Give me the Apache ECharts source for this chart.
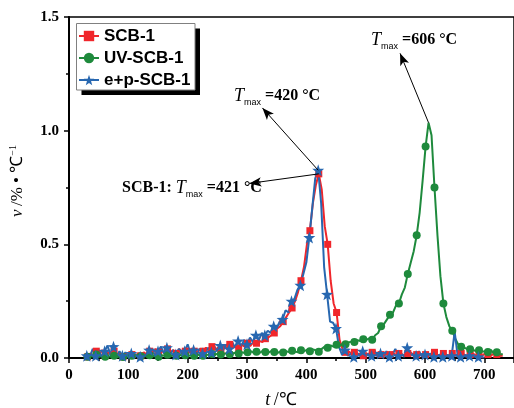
<!DOCTYPE html>
<html>
<head>
<meta charset="utf-8">
<script src="https://cdn.jsdelivr.net/npm/echarts@6/dist/echarts.min.js"></script>
<style>
html, body { margin: 0; padding: 0; background: #fff; }
#chart { width: 514px; height: 408px; }
</style>
</head>
<body>
<div id="chart"></div>
<script>
// Temperature grids (°C)
const tempsEP = [
  30, 35, 40, 45, 50, 55, 60, 65, 70, 75,
  80, 85, 90, 95, 100, 105, 110, 115, 120, 125,
  130, 135, 140, 145, 150, 155, 160, 165, 170, 175,
  180, 185, 190, 195, 200, 205, 210, 215, 220, 225,
  230, 235, 240, 245, 250, 255, 260, 265, 270, 275,
  280, 285, 290, 295, 300, 305, 310, 315, 320, 325,
  330, 335, 340, 345, 350, 355, 360, 365, 370, 375,
  380, 385, 390, 395, 400, 405, 410, 415, 420, 425,
  430, 435, 440, 445, 450, 455, 460, 465, 470, 475,
  480, 485, 490, 495, 500, 505, 510, 515, 520, 525,
  530, 535, 540, 545, 550, 555, 560, 565, 570, 575,
  580, 585, 590, 595, 600, 605, 610, 615, 620, 625,
  630, 635, 640, 645, 650, 655, 660, 665, 670, 675,
  680, 685, 690, 695, 700
];
const tempsSCB = [
  31, 36, 41, 46, 51, 56, 61, 66, 71, 76,
  81, 86, 91, 96, 101, 106, 111, 116, 121, 126,
  131, 136, 141, 146, 151, 156, 161, 166, 171, 176,
  181, 186, 191, 196, 201, 206, 211, 216, 221, 226,
  231, 236, 241, 246, 251, 256, 261, 266, 271, 276,
  281, 286, 291, 296, 301, 306, 311, 316, 321, 326,
  331, 336, 341, 346, 351, 356, 361, 366, 371, 376,
  381, 386, 391, 396, 401, 406, 411, 416, 421, 426,
  431, 436, 441, 446, 451, 456, 461, 466, 471, 476,
  481, 486, 491, 496, 501, 506, 511, 516, 521, 526,
  531, 536, 541, 546, 551, 556, 561, 566, 571, 576,
  581, 586, 591, 596, 601, 606, 611, 616, 621, 626,
  631, 636, 641, 646, 651, 656, 661, 666, 671, 676,
  681, 686, 691, 696, 701, 706, 711, 716, 721, 726,
  731
];

// DTG rate v (%/°C)
const scb1 = [
  0.005, 0.02, 0.01, 0.03, 0.015, 0.035, 0.01, 0.025, 0.015, 0.03,
  0.01, 0.02, 0.005, 0.02, 0.01, 0.015, 0.005, 0.02, 0.01, 0.025,
  0.015, 0.03, 0.02, 0.04, 0.025, 0.035, 0.02, 0.04, 0.025, 0.035,
  0.02, 0.04, 0.025, 0.03, 0.02, 0.04, 0.03, 0.025, 0.04, 0.03,
  0.045, 0.03, 0.05, 0.035, 0.045, 0.03, 0.055, 0.04, 0.06, 0.045,
  0.055, 0.045, 0.06, 0.05, 0.065, 0.055, 0.07, 0.065, 0.075, 0.07,
  0.085, 0.09, 0.1, 0.11, 0.13, 0.14, 0.16, 0.18, 0.2, 0.22,
  0.25, 0.29, 0.34, 0.4, 0.5, 0.56, 0.68, 0.76, 0.81, 0.74,
  0.58, 0.5, 0.34, 0.24, 0.2, 0.08, 0.04, 0.025, 0.03, 0.02,
  0.025, 0.015, 0.02, 0.01, 0.02, 0.015, 0.025, 0.01, 0.02, 0.015,
  0.01, 0.02, 0.015, 0.025, 0.01, 0.02, 0.015, 0.01, 0.02, 0.025,
  0.01, 0.015, 0.02, 0.01, 0.015, 0.02, 0.01, 0.025, 0.015, 0.01,
  0.02, 0.015, 0.01, 0.02, 0.015, 0.01, 0.02, 0.015, 0.01, 0.015,
  0.02, 0.01, 0.015, 0.01, 0.02, 0.015, 0.01, 0.02, 0.015, 0.01,
  0.01
];
const uvScb1 = [
  0.005, 0.01, 0.005, 0.015, 0.005, 0.01, 0.005, 0.008, 0.005, 0.01,
  0.004, 0.006, 0.004, 0.008, 0.005, 0.01, 0.006, 0.012, 0.008, 0.01,
  0.006, 0.012, 0.008, 0.01, 0.006, 0.012, 0.01, 0.014, 0.008, 0.012,
  0.01, 0.015, 0.01, 0.012, 0.008, 0.014, 0.01, 0.015, 0.012, 0.01,
  0.016, 0.012, 0.018, 0.014, 0.02, 0.015, 0.018, 0.022, 0.016, 0.02,
  0.024, 0.02, 0.026, 0.022, 0.025, 0.03, 0.024, 0.028, 0.022, 0.03,
  0.026, 0.024, 0.03, 0.026, 0.022, 0.028, 0.024, 0.03, 0.026, 0.032,
  0.028, 0.025, 0.034, 0.03, 0.036, 0.03, 0.038, 0.034, 0.028, 0.04,
  0.05, 0.045, 0.055, 0.05, 0.058, 0.052, 0.062, 0.06, 0.068, 0.072,
  0.07, 0.078, 0.075, 0.082, 0.08, 0.086, 0.08, 0.1, 0.11, 0.14,
  0.15, 0.17, 0.19, 0.2, 0.23, 0.24, 0.28, 0.31, 0.37, 0.42,
  0.47, 0.54, 0.64, 0.78, 0.93, 1.035, 0.98, 0.75, 0.54, 0.36,
  0.24, 0.18, 0.14, 0.12, 0.085, 0.06, 0.05, 0.045, 0.04, 0.038,
  0.035, 0.03, 0.034, 0.028, 0.03, 0.026, 0.036, 0.02, 0.025, 0.015,
  0.018
];
const epScb1 = [
  0.01, 0.005, 0.04, 0.01, 0.035, 0.005, 0.03, 0.055, 0.01, 0.05,
  0.005, 0.03, 0.01, 0.025, 0.005, 0.02, 0.01, 0.015, 0.005, 0.02,
  0.01, 0.035, 0.04, 0.01, 0.03, 0.05, 0.02, 0.045, 0.01, 0.035,
  0.015, 0.04, 0.02, 0.03, 0.06, 0.02, 0.035, 0.015, 0.04, 0.02,
  0.03, 0.045, 0.025, 0.05, 0.03, 0.055, 0.035, 0.06, 0.04, 0.07,
  0.045, 0.075, 0.05, 0.08, 0.06, 0.09, 0.07, 0.1, 0.08, 0.11,
  0.1, 0.12, 0.11, 0.14, 0.13, 0.16, 0.17, 0.21, 0.2, 0.25,
  0.26, 0.3, 0.32, 0.37, 0.42, 0.53, 0.66, 0.79, 0.826, 0.68,
  0.4, 0.28, 0.16, 0.155, 0.13, 0.05, 0.015, 0.035, 0.01, 0.02,
  0.005, 0.025, 0.01, 0.03, 0.005, 0.02, 0.01, 0.035, 0.005, 0.02,
  0.01, 0.03, 0.005, 0.015, 0.04, 0.01, 0.02, 0.005, 0.045, 0.01,
  0.02, 0.01, 0.03, 0.005, 0.015, 0.01, 0.02, 0.005, 0.01, 0.015,
  0.005, 0.01, 0.005, 0.01, 0.115, 0.01, 0.005, 0.01, 0.005, 0.01,
  0.008, 0.005, 0.005, 0.003, 0.002
];

const seriesNames = ['SCB-1', 'UV-SCB-1', 'e+p-SCB-1'];
const xTickValues = [0, 100, 200, 300, 400, 500, 600, 700];
const yTickValues = [0.0, 0.5, 1.0, 1.5];

const SERIF = '"Liberation Serif", "Times New Roman", serif';
const SANS = '"Liberation Sans", Arial, sans-serif';
const STAR = 'path://M0,-10L2.35,-3.24L9.51,-3.09L3.8,1.24L5.88,8.09L0,4.2L-5.88,8.09L-3.8,1.24L-9.51,-3.09L-2.35,-3.24Z';

// Every third sample carries a marker
function points(temps, values) {
  return temps.map((t, i) => ({
    value: [t, values[i]],
    symbol: i % 3 === 0 ? undefined : 'none'
  }));
}
function peak(temps, values) {
  let k = 0;
  values.forEach((v, i) => { if (v > values[k]) k = i; });
  return [temps[k], values[k]];
}

function arrowLine(from, to) {
  return {
    silent: true,
    symbol: ['none', 'arrow'],
    symbolSize: [7, 12],
    lineStyle: { color: '#000', width: 1, type: 'solid' },
    label: { show: false },
    emphasis: { disabled: true },
    animation: false,
    data: [[{ coord: from }, { coord: to }]]
  };
}

function lineSeries(name, temps, values, color, symbol, size, mark) {
  return {
    name, type: 'line', data: points(temps, values),
    symbol, symbolSize: size, showAllSymbol: true,
    lineStyle: { color, width: 2 },
    itemStyle: { color },
    emphasis: { disabled: true },
    markLine: mark
  };
}

const peakSCB = peak(tempsSCB, scb1);
const peakUV = peak(tempsSCB, uvScb1);
const peakEP = peak(tempsEP, epScb1);

const tmaxRich = {
  t: { fontFamily: SERIF, fontStyle: 'italic', fontSize: 18, lineHeight: 22, color: '#000' },
  m: { fontFamily: SANS, fontSize: 9, lineHeight: 9, verticalAlign: 'bottom', color: '#000' },
  v: { fontFamily: SERIF, fontWeight: 'bold', fontSize: 16, lineHeight: 22, color: '#000' }
};
function tmaxText(x, y, text) {
  return {
    type: 'text', x, y, silent: true,
    style: { text, rich: tmaxRich, align: 'left', verticalAlign: 'middle' }
  };
}

// Legend frame with a solid drop shadow
const legendBox = { x: 76.5, y: 23.5, width: 118.5, height: 66.5 };

const chart = echarts.init(document.getElementById('chart'), null, { renderer: 'canvas' });
chart.setOption({
  animation: false,
  backgroundColor: '#fff',
  grid: {
    left: 69, right: -10, top: 17, bottom: 50,
    show: true, borderColor: '#000', borderWidth: 1.5, backgroundColor: 'transparent'
  },
  legend: {
    data: seriesNames,
    orient: 'vertical', left: 76, top: 23,
    padding: [2, 2, 2, 2], itemGap: 0, itemWidth: 20, itemHeight: 13,
    backgroundColor: 'transparent', borderWidth: 0,
    z: 20,
    textStyle: { fontFamily: SANS, fontWeight: 'bold', fontSize: 17, lineHeight: 22, color: '#000' }
  },
  xAxis: {
    type: 'value', min: 0, max: 750, interval: 100,
    axisLine: { show: true, onZero: false, lineStyle: { color: '#000', width: 2 } },
    axisTick: { show: true, inside: false, length: 5, lineStyle: { color: '#000', width: 1.5 } },
    minorTick: { show: true, splitNumber: 2, length: 3, lineStyle: { color: '#000', width: 1.5 } },
    splitLine: { show: false },
    axisLabel: {
      margin: 10, showMaxLabel: false, color: '#000',
      fontFamily: SERIF, fontWeight: 'bold', fontSize: 15,
      formatter: v => (xTickValues.includes(v) ? String(v) : '')
    }
  },
  yAxis: {
    type: 'value', min: 0, max: 1.5, interval: 0.5,
    axisLine: { show: true, onZero: false, lineStyle: { color: '#000', width: 2 } },
    axisTick: { show: true, inside: false, length: 5, lineStyle: { color: '#000', width: 1.5 } },
    minorTick: { show: true, splitNumber: 2, length: 3, lineStyle: { color: '#000', width: 1.5 } },
    splitLine: { show: false },
    axisLabel: {
      margin: 10, color: '#000',
      fontFamily: SERIF, fontWeight: 'bold', fontSize: 15,
      formatter: v => (yTickValues.some(t => Math.abs(t - v) < 1e-9) ? v.toFixed(1) : '')
    }
  },
  series: [
    lineSeries(seriesNames[0], tempsSCB, scb1, '#f0262b', 'rect', 7,
      arrowLine(peakSCB, [304, 0.768])),
    lineSeries(seriesNames[1], tempsSCB, uvScb1, '#1e8a3c', 'circle', 8,
      arrowLine(peakUV, [558, 1.34])),
    lineSeries(seriesNames[2], tempsEP, epScb1, '#2767b0', STAR, 12,
      arrowLine(peakEP, [326, 1.10]))
  ],
  graphic: [
    {
      type: 'rect', z: 10, silent: true,
      shape: { x: legendBox.x + 5, y: legendBox.y + 5, width: legendBox.width, height: legendBox.height },
      style: { fill: '#000' }
    },
    {
      type: 'rect', z: 11, silent: true,
      shape: legendBox,
      style: { fill: '#fff', stroke: '#808080', lineWidth: 1 }
    },
    tmaxText(234, 96, '{t|T}{m|max}{v| =' + peakEP[0] + ' °C}'),
    tmaxText(371, 40, '{t|T}{m|max}{v| =' + peakUV[0] + ' °C}'),
    tmaxText(122, 188, '{v|SCB-1: }{t|T}{m|max}{v| =' + peakSCB[0] + ' °C}'),
    {
      type: 'text', x: 281, y: 400, silent: true,
      style: {
        text: '{i|t} {n|/℃}',
        align: 'center', verticalAlign: 'middle',
        rich: {
          i: { fontFamily: SERIF, fontStyle: 'italic', fontSize: 18, color: '#000' },
          n: { fontFamily: SERIF, fontSize: 18, color: '#000' }
        }
      }
    },
    {
      type: 'text', x: 18, y: 181, rotation: Math.PI / 2, silent: true,
      style: {
        text: '{i|v} {n|/% • ℃}{s|−1}',
        align: 'center', verticalAlign: 'middle',
        rich: {
          i: { fontFamily: SERIF, fontStyle: 'italic', fontSize: 17, lineHeight: 20, color: '#000' },
          n: { fontFamily: SERIF, fontSize: 17, lineHeight: 20, color: '#000' },
          s: { fontFamily: SERIF, fontSize: 10, lineHeight: 10, verticalAlign: 'top', color: '#000' }
        }
      }
    }
  ]
});
</script>
</body>
</html>
